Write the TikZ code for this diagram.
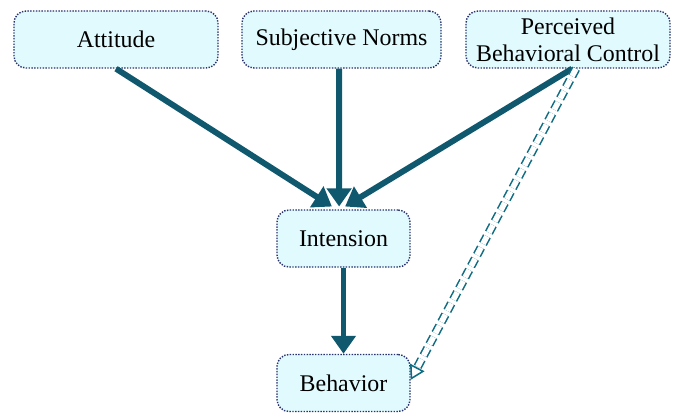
\documentclass[tikz,border=0pt]{standalone}
\usepackage{fontspec}
\setmainfont{Liberation Serif}
\usepackage{tikz}
\usetikzlibrary{arrows.meta}
\usetikzlibrary{shapes,positioning,calc}

\definecolor{boxfill}{RGB}{224,250,253}
\definecolor{boxline}{RGB}{40,50,110}
\definecolor{flowcol}{RGB}{16,88,110}
\definecolor{linkcol}{RGB}{15,108,130}

\begin{document}
\begin{tikzpicture}[x=0.025cm,y=-0.025cm,
		box/.style={draw=boxline,densely dotted,line width=1pt,fill=boxfill,rounded corners=0.3cm,
			minimum height=1.425cm,align=center,font=\rmfamily\fontsize{17}{19}\selectfont,inner sep=0pt},
		flow/.style={draw=flowcol,line width=4.2pt,-{Triangle[length=0.45cm,width=0.6cm]}},
		link/.style={draw=linkcol,double=white,double distance=4pt,line width=1.1pt,
			dash pattern=on 6pt off 3pt,-{Triangle[open,length=0.35cm,width=0.4cm]}}]
				\useasboundingbox (0,0) rectangle (676,414);
				\node[box,minimum width=5.1cm] (att) at (116,39.5) {Attitude};
				\node[box,minimum width=4.975cm] (sn) at (341.5,39.5) {Subjective Norms};
				\node[box,minimum width=5.1cm] (pbc) at (568,39.5) {Perceived\\Behavioral Control};
				\node[box,minimum width=3.325cm] (int) at (343.5,238.5) {Intension};
				\node[box,minimum width=3.325cm] (beh) at (343.5,383) {Behavior};
				\draw[flow] (att.south) -- ([xshift=-0.29cm,yshift=0.07cm]int.north);
				\draw[flow] ([xshift=-0.06cm]sn.south) -- ([xshift=-0.11cm,yshift=0.07cm]int.north);
				\draw[flow] ([xshift=0.1cm]pbc.south) -- ([xshift=0.04cm,yshift=0.07cm]int.north);
				\draw[flow] (int.south) -- (beh.north);
				\draw[link] ([xshift=0.2cm]pbc.south) -- ([yshift=0.08cm]beh.east);
			\end{tikzpicture}
\end{document}
